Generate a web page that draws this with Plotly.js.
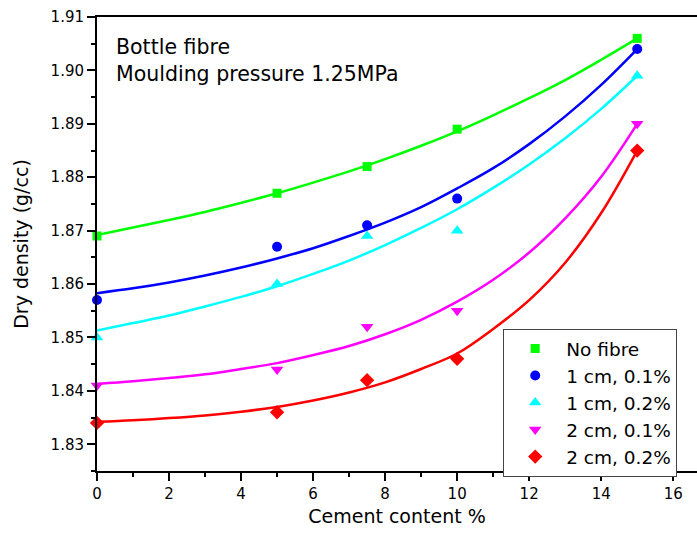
<!DOCTYPE html>
<html>
<head>
<meta charset="utf-8">
<script src="https://cdn.plot.ly/plotly-3.0.1.min.js"></script>
<style>html,body{margin:0;padding:0;background:#fff;}#chart{width:697px;height:535px;}</style>
</head>
<body>
<div id="chart"></div>
<script>
// Measured points
var cement = [0, 5, 7.5, 10, 15];
var noFibre   = [1.869, 1.877, 1.882, 1.889, 1.906];
var cm1_01    = [1.857, 1.867, 1.871, 1.876, 1.904];
var cm1_02    = [1.850, 1.860, 1.869, 1.870, 1.899];
var cm2_01    = [1.841, 1.844, 1.852, 1.855, 1.890];
var cm2_02    = [1.834, 1.836, 1.842, 1.846, 1.885];

// Fitted curves
var fitX        = [0, 1, 2, 3, 4, 5, 6, 7, 8, 9, 10, 11, 12, 13, 14, 15];
var fitNoFibre  = [1.8692, 1.8706, 1.8720, 1.8735, 1.8752, 1.8770, 1.8790, 1.8811, 1.8834, 1.8859, 1.8886, 1.8916, 1.8948, 1.8982, 1.9020, 1.9060];
var fit1_01     = [1.8583, 1.8592, 1.8603, 1.8616, 1.8631, 1.8648, 1.8667, 1.8690, 1.8715, 1.8744, 1.8779, 1.8817, 1.8862, 1.8914, 1.8973, 1.9040];
var fit1_02     = [1.8513, 1.8527, 1.8541, 1.8558, 1.8576, 1.8596, 1.8619, 1.8644, 1.8673, 1.8705, 1.8740, 1.8780, 1.8824, 1.8873, 1.8928, 1.8990];
var fit2_01     = [1.8413, 1.8418, 1.8424, 1.8431, 1.8441, 1.8452, 1.8467, 1.8484, 1.8506, 1.8533, 1.8567, 1.8608, 1.8659, 1.8723, 1.8801, 1.8900];
var fit2_02     = [1.8342, 1.8345, 1.8349, 1.8354, 1.8361, 1.8370, 1.8382, 1.8397, 1.8416, 1.8441, 1.8470, 1.8516, 1.8570, 1.8640, 1.8733, 1.8850];

var names   = ['No fibre', '1 cm, 0.1%', '1 cm, 0.2%', '2 cm, 0.1%', '2 cm, 0.2%'];
var colors  = ['#00ff00', '#0000ff', '#00ffff', '#ff00ff', '#ff0000'];
var symbols = ['square', 'circle', 'triangle-up', 'triangle-down', 'diamond'];
var sizes   = [9, 10, 11, 11, 11];
var pts  = [noFibre, cm1_01, cm1_02, cm2_01, cm2_02];
var fits = [fitNoFibre, fit1_01, fit1_02, fit2_01, fit2_02];

var FONT = 'DejaVu Sans, Arial, sans-serif';
var traces = [];
for (var i = 0; i < 5; i++) {
  traces.push({
    x: fitX, y: fits[i], type: 'scatter', mode: 'lines',
    line: {color: colors[i], width: 2.5, shape: 'spline', smoothing: 1},
    showlegend: false, hoverinfo: 'skip'
  });
}
for (var j = 0; j < 5; j++) {
  traces.push({
    x: cement, y: pts[j], type: 'scatter', mode: 'markers', name: names[j],
    marker: {color: colors[j], symbol: symbols[j], size: sizes[j]},
    cliponaxis: false
  });
}

var layout = {
  width: 697, height: 535,
  margin: {l: 97, r: 0, t: 17, b: 64},
  paper_bgcolor: '#fff', plot_bgcolor: '#fff',
  font: {family: FONT, color: '#000', size: 15},
  showlegend: true,
  xaxis: {
    range: [0, 16.66], tick0: 0, dtick: 2, ticks: 'outside', ticklen: 8, tickwidth: 2, tickcolor: '#000',
    showline: true, linecolor: '#000', linewidth: 2, mirror: true, showgrid: false, zeroline: false,
    tickfont: {family: FONT, size: 15},
    minor: {dtick: 1, ticks: 'outside', ticklen: 4, tickwidth: 2, tickcolor: '#000', showgrid: false},
    title: {text: 'Cement content %', font: {family: FONT, size: 19}, standoff: 8}
  },
  yaxis: {
    range: [1.825, 1.91], tick0: 1.83, dtick: 0.01, tickformat: '.2f', ticks: 'outside', ticklen: 8, tickwidth: 2, tickcolor: '#000',
    showline: true, linecolor: '#000', linewidth: 2, mirror: false, showgrid: false, zeroline: false,
    tickfont: {family: FONT, size: 15},
    minor: {dtick: 0.005, ticks: 'outside', ticklen: 4, tickwidth: 2, tickcolor: '#000', showgrid: false},
    title: {text: 'Dry density (g/cc)', font: {family: FONT, size: 19}, standoff: 17}
  },
  legend: {
    x: 0.677, y: 0.313, xanchor: 'left', yanchor: 'top',
    bordercolor: '#444', borderwidth: 1, bgcolor: '#fff',
    font: {family: FONT, size: 18.5}, itemwidth: 52, tracegroupgap: 0
  },
  annotations: [{
    xref: 'paper', yref: 'paper', x: 0.028, y: 0.965, xanchor: 'left', yanchor: 'top',
    align: 'left', showarrow: false,
    text: 'Bottle fibre<br>Moulding pressure 1.25MPa',
    font: {family: FONT, size: 20.5, color: '#000'}
  }]
};

Plotly.newPlot('chart', traces, layout, {displayModeBar: false, staticPlot: true});
</script>
</body>
</html>
